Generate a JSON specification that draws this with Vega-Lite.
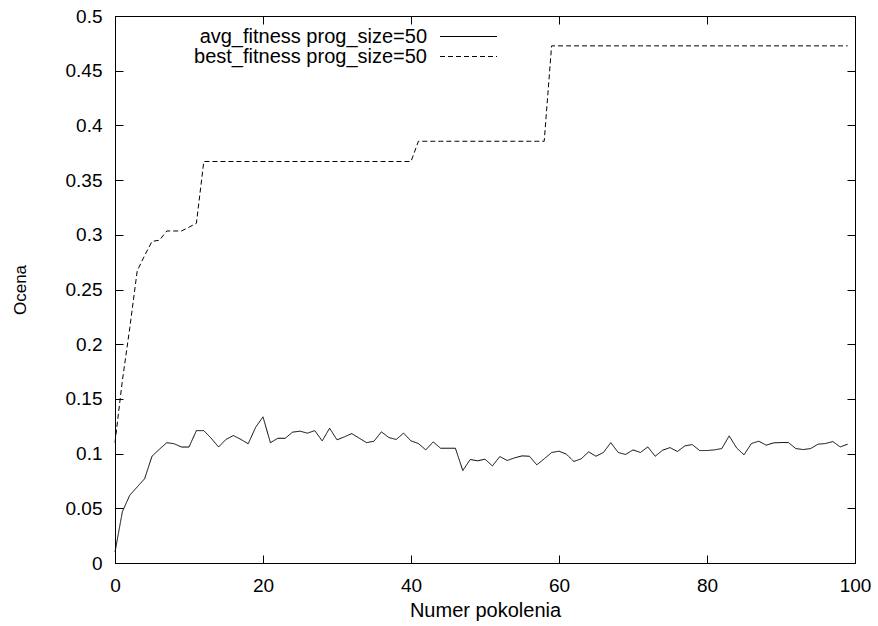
{
  "$schema": "https://vega.github.io/schema/vega-lite/v6.json",
  "width": 740,
  "height": 547,
  "autosize": {"type": "none"},
  "padding": {"left": 115, "top": 16, "right": 23, "bottom": 63},
  "background": "white",
  "config": {
    "font": "Liberation Sans",
    "view": {"stroke": "black", "strokeWidth": 1},
    "axis": {
      "grid": false,
      "domainColor": "black",
      "tickColor": "black",
      "labelColor": "black",
      "titleColor": "black",
      "labelFontSize": 19,
      "titleFontSize": 20,
      "titleFontWeight": "normal",
      "tickSize": -8,
      "labelPadding": 21
    },
    "legend": {
      "orient": "none",
      "legendX": 343.5,
      "legendY": 10.5,
      "padding": 0,
      "rowPadding": 0,
      "symbolType": "M-5.7,0L5.7,0",
      "symbolSize": 100,
      "symbolStrokeWidth": 1,
      "symbolStrokeColor": "black",
      "symbolFillColor": "transparent",
      "labelAlign": "right",
      "labelOffset": -51.5,
      "labelFontSize": 20,
      "labelColor": "black",
      "labelLimit": 400
    }
  },
  "data": {
    "values": [
      {"g": 0, "avg": 0.010, "best": 0.110},
      {"g": 1, "avg": 0.047, "best": 0.167},
      {"g": 2, "avg": 0.062, "best": 0.215},
      {"g": 3, "avg": 0.0695, "best": 0.267},
      {"g": 4, "avg": 0.077, "best": 0.281},
      {"g": 5, "avg": 0.0976, "best": 0.294},
      {"g": 6, "avg": 0.104, "best": 0.295},
      {"g": 7, "avg": 0.110, "best": 0.3035},
      {"g": 8, "avg": 0.109, "best": 0.3035},
      {"g": 9, "avg": 0.106, "best": 0.3035},
      {"g": 10, "avg": 0.106, "best": 0.307},
      {"g": 11, "avg": 0.121, "best": 0.3105},
      {"g": 12, "avg": 0.121, "best": 0.367},
      {"g": 13, "avg": 0.114, "best": 0.367},
      {"g": 14, "avg": 0.106, "best": 0.367},
      {"g": 15, "avg": 0.113, "best": 0.367},
      {"g": 16, "avg": 0.1165, "best": 0.367},
      {"g": 17, "avg": 0.113, "best": 0.367},
      {"g": 18, "avg": 0.109, "best": 0.367},
      {"g": 19, "avg": 0.124, "best": 0.367},
      {"g": 20, "avg": 0.1336, "best": 0.367},
      {"g": 21, "avg": 0.110, "best": 0.367},
      {"g": 22, "avg": 0.114, "best": 0.367},
      {"g": 23, "avg": 0.114, "best": 0.367},
      {"g": 24, "avg": 0.1196, "best": 0.367},
      {"g": 25, "avg": 0.1205, "best": 0.367},
      {"g": 26, "avg": 0.1187, "best": 0.367},
      {"g": 27, "avg": 0.121, "best": 0.367},
      {"g": 28, "avg": 0.1116, "best": 0.367},
      {"g": 29, "avg": 0.1232, "best": 0.367},
      {"g": 30, "avg": 0.1126, "best": 0.367},
      {"g": 31, "avg": 0.1153, "best": 0.367},
      {"g": 32, "avg": 0.1183, "best": 0.367},
      {"g": 33, "avg": 0.1141, "best": 0.367},
      {"g": 34, "avg": 0.110, "best": 0.367},
      {"g": 35, "avg": 0.1113, "best": 0.367},
      {"g": 36, "avg": 0.1199, "best": 0.367},
      {"g": 37, "avg": 0.1147, "best": 0.367},
      {"g": 38, "avg": 0.1129, "best": 0.367},
      {"g": 39, "avg": 0.1187, "best": 0.367},
      {"g": 40, "avg": 0.1116, "best": 0.367},
      {"g": 41, "avg": 0.1092, "best": 0.3855},
      {"g": 42, "avg": 0.1034, "best": 0.3855},
      {"g": 43, "avg": 0.1107, "best": 0.3855},
      {"g": 44, "avg": 0.1049, "best": 0.3855},
      {"g": 45, "avg": 0.1049, "best": 0.3855},
      {"g": 46, "avg": 0.1049, "best": 0.3855},
      {"g": 47, "avg": 0.0845, "best": 0.3855},
      {"g": 48, "avg": 0.0946, "best": 0.3855},
      {"g": 49, "avg": 0.0934, "best": 0.3855},
      {"g": 50, "avg": 0.0949, "best": 0.3855},
      {"g": 51, "avg": 0.0887, "best": 0.3855},
      {"g": 52, "avg": 0.0973, "best": 0.3855},
      {"g": 53, "avg": 0.0937, "best": 0.3855},
      {"g": 54, "avg": 0.0961, "best": 0.3855},
      {"g": 55, "avg": 0.0979, "best": 0.3855},
      {"g": 56, "avg": 0.0976, "best": 0.3855},
      {"g": 57, "avg": 0.0897, "best": 0.3855},
      {"g": 58, "avg": 0.0952, "best": 0.3855},
      {"g": 59, "avg": 0.101, "best": 0.4727},
      {"g": 60, "avg": 0.1022, "best": 0.4727},
      {"g": 61, "avg": 0.0995, "best": 0.4727},
      {"g": 62, "avg": 0.0928, "best": 0.4727},
      {"g": 63, "avg": 0.0952, "best": 0.4727},
      {"g": 64, "avg": 0.1016, "best": 0.4727},
      {"g": 65, "avg": 0.0976, "best": 0.4727},
      {"g": 66, "avg": 0.101, "best": 0.4727},
      {"g": 67, "avg": 0.110, "best": 0.4727},
      {"g": 68, "avg": 0.101, "best": 0.4727},
      {"g": 69, "avg": 0.0992, "best": 0.4727},
      {"g": 70, "avg": 0.1034, "best": 0.4727},
      {"g": 71, "avg": 0.101, "best": 0.4727},
      {"g": 72, "avg": 0.1061, "best": 0.4727},
      {"g": 73, "avg": 0.0976, "best": 0.4727},
      {"g": 74, "avg": 0.1031, "best": 0.4727},
      {"g": 75, "avg": 0.1055, "best": 0.4727},
      {"g": 76, "avg": 0.1019, "best": 0.4727},
      {"g": 77, "avg": 0.107, "best": 0.4727},
      {"g": 78, "avg": 0.1083, "best": 0.4727},
      {"g": 79, "avg": 0.1028, "best": 0.4727},
      {"g": 80, "avg": 0.1028, "best": 0.4727},
      {"g": 81, "avg": 0.1034, "best": 0.4727},
      {"g": 82, "avg": 0.1046, "best": 0.4727},
      {"g": 83, "avg": 0.1162, "best": 0.4727},
      {"g": 84, "avg": 0.1052, "best": 0.4727},
      {"g": 85, "avg": 0.0989, "best": 0.4727},
      {"g": 86, "avg": 0.1092, "best": 0.4727},
      {"g": 87, "avg": 0.1113, "best": 0.4727},
      {"g": 88, "avg": 0.1077, "best": 0.4727},
      {"g": 89, "avg": 0.1098, "best": 0.4727},
      {"g": 90, "avg": 0.1101, "best": 0.4727},
      {"g": 91, "avg": 0.1101, "best": 0.4727},
      {"g": 92, "avg": 0.1046, "best": 0.4727},
      {"g": 93, "avg": 0.1037, "best": 0.4727},
      {"g": 94, "avg": 0.1046, "best": 0.4727},
      {"g": 95, "avg": 0.1086, "best": 0.4727},
      {"g": 96, "avg": 0.1092, "best": 0.4727},
      {"g": 97, "avg": 0.111, "best": 0.4727},
      {"g": 98, "avg": 0.1061, "best": 0.4727},
      {"g": 99, "avg": 0.1086, "best": 0.4727}
    ]
  },
  "transform": [{"fold": ["avg", "best"], "as": ["series", "value"]}],
  "layer": [
    {
      "mark": {"type": "line", "color": "black", "strokeWidth": 1},
      "encoding": {
        "x": {
          "field": "g",
          "type": "quantitative",
          "scale": {"domain": [0, 100], "nice": false, "zero": false},
          "axis": {
            "orient": "bottom",
            "values": [0, 20, 40, 60, 80, 100],
            "title": "Numer pokolenia",
            "labelFlush": false,
            "titlePadding": 5
          }
        },
        "y": {
          "field": "value",
          "type": "quantitative",
          "scale": {"domain": [0, 0.5], "nice": false},
          "axis": {
            "orient": "left",
            "values": [0, 0.05, 0.1, 0.15, 0.2, 0.25, 0.3, 0.35, 0.4, 0.45, 0.5],
            "labelExpr": "datum.value == 0 ? '0' : format(datum.value, '~g')",
            "title": "Ocena",
            "titleFontSize": 17,
            "titlePadding": 36
          }
        },
        "strokeDash": {
          "field": "series",
          "type": "nominal",
          "scale": {"domain": ["avg", "best"], "range": [[1, 0], [5, 3]]},
          "legend": {
            "title": null,
            "labelExpr": "datum.label == 'avg' ? 'avg_fitness prog_size=50' : 'best_fitness prog_size=50'"
          }
        }
      }
    },
    {
      "mark": {"type": "point", "opacity": 0},
      "encoding": {
        "x": {
          "field": "g",
          "type": "quantitative",
          "axis": {"orient": "top", "values": [0, 20, 40, 60, 80, 100], "labels": false, "title": null}
        },
        "y": {
          "field": "value",
          "type": "quantitative",
          "axis": {"orient": "right", "values": [0, 0.05, 0.1, 0.15, 0.2, 0.25, 0.3, 0.35, 0.4, 0.45, 0.5], "labels": false, "title": null}
        }
      }
    }
  ],
  "resolve": {"axis": {"x": "independent", "y": "independent"}}
}
